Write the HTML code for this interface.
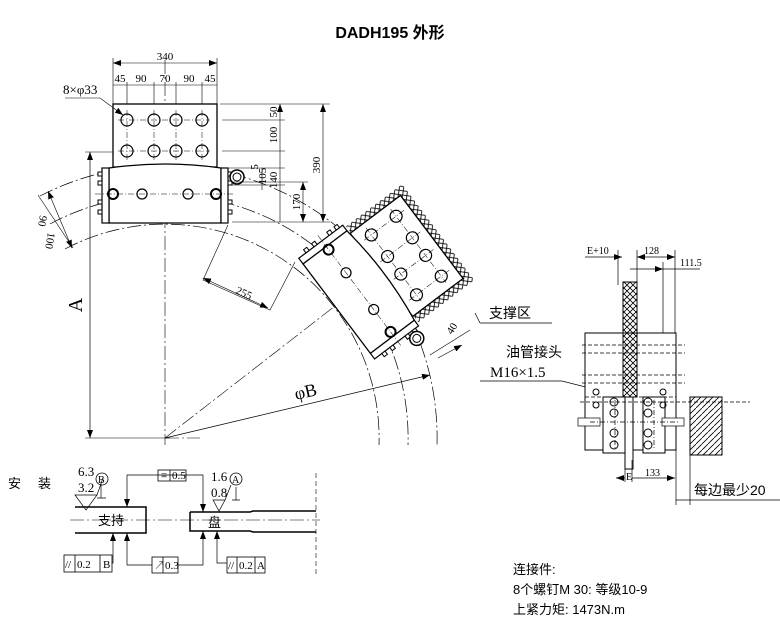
<!DOCTYPE html>
<html><head><meta charset="utf-8"><style>
html,body{margin:0;padding:0;background:#fff}
svg{display:block}
text{font-family:"Liberation Serif","Noto Serif CJK SC",serif;fill:#000}
.s{font-family:"Liberation Sans","Noto Sans CJK SC",sans-serif}
</style></head><body>
<svg width="780" height="632" viewBox="0 0 780 632" xmlns="http://www.w3.org/2000/svg">
<defs>
<marker id="a" markerWidth="8" markerHeight="6" refX="8" refY="3" orient="auto-start-reverse" markerUnits="userSpaceOnUse"><path d="M0,0L8,3L0,6z" fill="#000"/></marker>
<pattern id="h" width="6" height="6" patternUnits="userSpaceOnUse"><path d="M0,6L6,0" stroke="#000" stroke-width="0.8"/></pattern>
<pattern id="x" width="6" height="6" patternUnits="userSpaceOnUse"><path d="M0,0L6,6M0,6L6,0" stroke="#000" stroke-width="0.8"/></pattern>
<g id="cal">
<rect x="113" y="104" width="104" height="63" fill="#fff" stroke="#000" stroke-width="1.3"/>
<g fill="none" stroke="#000" stroke-width="1.2">
<circle cx="127" cy="120" r="6"/><circle cx="154" cy="120" r="6"/><circle cx="176" cy="120" r="6"/><circle cx="202" cy="120" r="6"/>
<circle cx="127" cy="151" r="6"/><circle cx="154" cy="151" r="6"/><circle cx="176" cy="151" r="6"/><circle cx="202" cy="151" r="6"/>
</g>
<path d="M118,120H210M118,151H210M127,110V160M154,110V160M176,110V160M202,110V160" stroke="#000" stroke-width="0.5" stroke-dasharray="6,2,1,2"/>
<path d="M109,168Q165,160 221,168V223H109Z" fill="#fff" stroke="#000" stroke-width="1.3"/>
<rect x="102" y="168" width="7" height="55" fill="#fff" stroke="#000" stroke-width="1.2"/>
<rect x="221" y="168" width="7" height="55" fill="#fff" stroke="#000" stroke-width="1.2"/>
<g fill="#fff" stroke="#000"><rect x="98" y="172" width="4" height="4"/><rect x="98" y="181" width="4" height="4"/><rect x="98" y="200" width="4" height="4"/><rect x="98" y="210" width="4" height="4"/><rect x="228" y="172" width="4" height="4"/><rect x="228" y="181" width="4" height="4"/><rect x="228" y="200" width="4" height="4"/><rect x="228" y="210" width="4" height="4"/></g>
<circle cx="237" cy="177" r="7" fill="#fff" stroke="#000" stroke-width="1.5"/><circle cx="237" cy="177" r="4" fill="none" stroke="#000"/>
<g fill="none" stroke="#000" stroke-width="1.2"><circle cx="113" cy="194" r="5" stroke-width="2"/><circle cx="142" cy="194" r="5"/><circle cx="188" cy="194" r="5"/><circle cx="216" cy="194" r="5" stroke-width="2"/></g>
<path d="M95,194H235" stroke="#000" stroke-width="0.5" stroke-dasharray="6,2,1,2"/>
</g>
</defs>

<text x="390" y="38" text-anchor="middle" class="s" font-size="16" font-weight="bold">DADH195 外形</text>

<!-- arcs -->
<g fill="none" stroke="#000" stroke-width="0.7" stroke-dasharray="14,3,2,3">
<path d="M40,196A272,272 0 0 1 437,445"/>
<path d="M50,224A243,243 0 0 1 408,445"/>
<path d="M65,249A214,214 0 0 1 379,445"/>
</g>
<path d="M165,60V445M165,438L420,240M165,438H200" stroke="#000" stroke-width="0.6" stroke-dasharray="14,3,2,3" fill="none"/>
<!-- A dim -->
<path d="M90,152V438" stroke="#000" stroke-width="0.7" marker-start="url(#a)" marker-end="url(#a)"/>
<path d="M85,152H113M85,438H170" stroke="#000" stroke-width="0.6"/>
<text x="82" y="305" font-size="20" transform="rotate(-90 82 305)" text-anchor="middle">A</text>
<!-- φB -->
<path d="M165,438L430,375" stroke="#000" stroke-width="0.7" marker-end="url(#a)"/>
<text x="296" y="400" font-size="18" transform="rotate(-13 296 400)">φB</text>

<g transform="rotate(53 165 438)">
<rect x="105" y="96" width="120" height="70" fill="url(#x)"/>
</g>
<g transform="rotate(53 165 438)"><use href="#cal"/></g>
<use href="#cal"/>

<!-- top dims -->
<g stroke="#000" stroke-width="0.6" fill="none">
<path d="M113,58V104M217,58V104"/>
<path d="M113,63H217" marker-start="url(#a)" marker-end="url(#a)"/>
<path d="M113,85H217"/>
<path d="M127,82V104M154,82V104M176,82V104M202,82V104"/>
<path d="M65,98H100L123,115" marker-end="url(#a)"/>
<path d="M220,104H330M222,120H285M222,151H285M228,168H285M228,185H285M232,222H330M232,182H308"/>
<path d="M280,104V222" marker-start="url(#a)"/>
<path d="M303,182V222" marker-start="url(#a)" marker-end="url(#a)"/>
<path d="M323,104V222" marker-start="url(#a)" marker-end="url(#a)"/>
<path d="M262,168V190"/>
<path d="M228,225L203,280L270,310L295,262"/>
<path d="M203,278L268,308" marker-start="url(#a)" marker-end="url(#a)"/>
<path d="M38,195L73,248" /><path d="M48,191L72,248" marker-start="url(#a)" marker-end="url(#a)"/>
<path d="M430,355L470,330"/><path d="M438,358L462,345" marker-end="url(#a)"/>
</g>
<g font-size="11">
<text x="165" y="60" text-anchor="middle">340</text>
<text x="120" y="82" text-anchor="middle">45</text><text x="141" y="82" text-anchor="middle">90</text><text x="165" y="82" text-anchor="middle">70</text><text x="189" y="82" text-anchor="middle">90</text><text x="210" y="82" text-anchor="middle">45</text>
<text x="63" y="94" font-size="13">8×φ33</text>
<g transform="rotate(-90)"><text x="-112" y="277" text-anchor="middle">50</text><text x="-135" y="277" text-anchor="middle">100</text><text x="-180" y="277" text-anchor="middle">140</text><text x="-176" y="266" text-anchor="middle">105</text><text x="-167" y="258" text-anchor="middle">5</text><text x="-202" y="300" text-anchor="middle">170</text><text x="-165" y="320" text-anchor="middle">390</text></g>
<text x="235" y="293" transform="rotate(24 235 293)">255</text>
<text x="40" y="215" transform="rotate(100 40 215)">90</text>
<text x="48" y="232" transform="rotate(100 48 232)">100</text>
<text x="452" y="335" transform="rotate(-58 452 335)">40</text>
</g>

<text x="489" y="318" class="s" font-size="14">支撑区</text>
<path d="M480,323H552M475,313L480,323" stroke="#000" stroke-width="0.7" fill="none"/>
<text x="506" y="357" class="s" font-size="14">油管接头</text>
<text x="490" y="377" font-size="15">M16×1.5</text>
<path d="M480,381H562L625,397" stroke="#000" stroke-width="0.7" fill="none"/>

<g stroke="#000" fill="none" stroke-width="0.7">
<path d="M618,250V285M637,250V285M675,250V333M663,262V397"/>
<path d="M585,257H622" marker-end="url(#a)"/><path d="M637,257H675" marker-start="url(#a)" marker-end="url(#a)"/>
<path d="M630,269H663" marker-end="url(#a)"/><path d="M663,269H700"/>
<rect x="585" y="333" width="91" height="117" fill="#fff" stroke-width="1"/>
<path d="M582,345H685M582,353H685M582,375H685M582,383H685" stroke-dasharray="4,2"/>
<rect x="623" y="282" width="14" height="115" fill="url(#x)" stroke-width="1"/>
<rect x="603" y="397" width="23" height="56" fill="#fff" stroke-width="1"/>
<rect x="643" y="397" width="22" height="56" fill="#fff" stroke-width="1"/>
<rect x="625" y="397" width="8" height="72" fill="#fff" stroke-width="1"/>
<path d="M585,397H676M580,402H750" stroke-dasharray="4,2"/>
<rect x="690" y="397" width="32" height="58" fill="url(#h)" stroke-width="1"/>
<rect x="578" y="418" width="22" height="8" fill="#fff"/><rect x="662" y="418" width="22" height="8" fill="#fff"/>
<path d="M615,400V450M654,400V450M590,422H680" stroke-dasharray="5,2,1,2"/>
<path d="M616,478H625M632,478H675" marker-start="url(#a)" marker-end="url(#a)"/>
<path d="M625,460V482M632,460V482M676,450V505M690,455V505M676,500H690M690,500H780"/>
</g>
<g fill="none" stroke="#000"><circle cx="596" cy="392" r="3"/><circle cx="663" cy="392" r="3"/><circle cx="596" cy="405" r="3"/><circle cx="663" cy="405" r="3"/>
<circle cx="614" cy="402" r="4"/><circle cx="614" cy="413" r="4"/><circle cx="614" cy="433" r="4"/><circle cx="614" cy="445" r="4"/>
<circle cx="648" cy="402" r="4"/><circle cx="648" cy="413" r="4"/><circle cx="648" cy="433" r="4"/><circle cx="648" cy="445" r="4"/></g>
<g font-size="10"><text x="587" y="254">E+10</text><text x="644" y="254">128</text><text x="680" y="266">111.5</text><text x="626" y="480">E</text><text x="645" y="476">133</text></g>
<text x="694" y="495" class="s" font-size="14">每边最少20</text>

<text x="8" y="488" class="s" font-size="13">安</text><text x="38" y="488" class="s" font-size="13">装</text>
<g stroke="#000" fill="none">
<path d="M75,507H146V533H75" stroke-width="1.5"/>
<path d="M190,512H250L253,511H316M190,512V531H250L253,532H316" stroke-width="1.5"/>
<path d="M70,520H320" stroke-width="0.6" stroke-dasharray="14,3,2,3"/>
<path d="M316,473V575" stroke-width="0.6" stroke-dasharray="5,3"/>
<path d="M187,475H127V507" stroke-width="0.7" marker-end="url(#a)"/>
<path d="M186,475H203V512" stroke-width="0.7" marker-end="url(#a)"/>
<path d="M112,563H113V533" stroke-width="0.7" marker-end="url(#a)"/>
<path d="M152,565H127V533" stroke-width="0.7" marker-end="url(#a)"/>
<path d="M178,565H203V531" stroke-width="0.7" marker-end="url(#a)"/>
<path d="M227,563H217V531" stroke-width="0.7" marker-end="url(#a)"/>
<path d="M75,495L86,510L97,495ZM97,495L103,478M101,484V498M97,498H106" stroke-width="0.7"/>
<path d="M213,500L219,511L225,500ZM225,500L231,485M236,487V500M232,500H240" stroke-width="0.7"/>
<circle cx="102" cy="479" r="6" stroke-width="0.8"/><circle cx="236" cy="479" r="6" stroke-width="0.8"/>
<g stroke-width="0.8"><rect x="158" y="470" width="28" height="11"/><path d="M170,470V481"/>
<rect x="64" y="555" width="48" height="17"/><path d="M75,555V572M100,555V572"/>
<rect x="152" y="557" width="26" height="16"/><path d="M163,557V573"/>
<rect x="227" y="557" width="38" height="16"/><path d="M237,557V573M255,557V573"/></g>
</g>
<g font-size="13"><text x="78" y="476">6.3</text><text x="78" y="492">3.2</text><text x="98" y="483" font-size="10">B</text>
<text x="211" y="481">1.6</text><text x="211" y="497">0.8</text><text x="232" y="483" font-size="10">A</text></g>
<g font-size="11">
<text x="161" y="479">≡</text><text x="172" y="479">0.5</text>
<text x="65" y="568">//</text><text x="77" y="568">0.2</text><text x="103" y="568">B</text>
<text x="154" y="569">↗</text><text x="165" y="569">0.3</text>
<text x="228" y="569">//</text><text x="239" y="569">0.2</text><text x="257" y="569">A</text></g>
<text x="98" y="525" class="s" font-size="13">支持</text>
<text x="208" y="527" class="s" font-size="13">盘</text>
<g class="s" font-size="13"><text x="513" y="574" class="s">连接件:</text><text x="513" y="594" class="s">8个螺钉M 30: 等级10-9</text><text x="513" y="614" class="s">上紧力矩: 1473N.m</text></g>
</svg>
</body></html>
